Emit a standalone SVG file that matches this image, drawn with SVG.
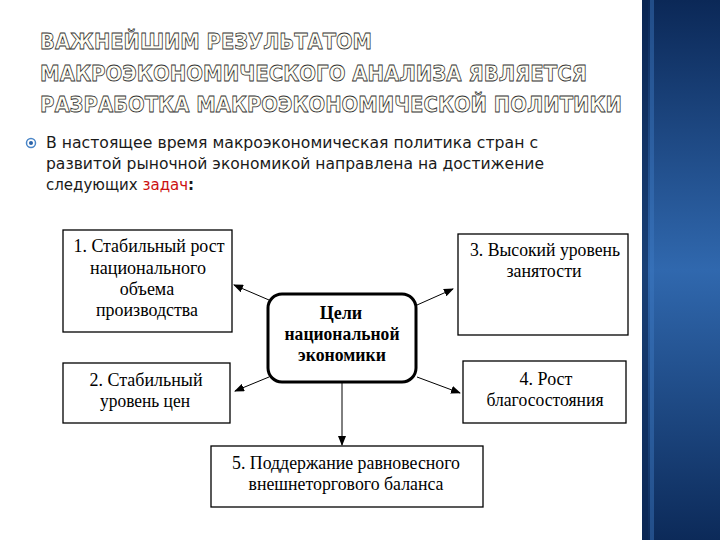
<svg xmlns="http://www.w3.org/2000/svg" width="720" height="540" viewBox="0 0 720 540">
<defs>
<linearGradient id="panel" x1="0" y1="0" x2="0" y2="1">
<stop offset="0" stop-color="#0b2857"/>
<stop offset="0.5" stop-color="#3068ae"/>
<stop offset="1" stop-color="#0c2a59"/>
</linearGradient>
<marker id="arr" markerWidth="10" markerHeight="8" refX="9" refY="4" orient="auto" markerUnits="userSpaceOnUse">
<path d="M0,0 L10,4 L0,8 Z" fill="#000"/>
</marker>
<style>
.title{font-family:"DejaVu Sans","Liberation Sans",sans-serif;font-weight:bold;font-size:21px;fill:#fffef4;stroke:#333;stroke-width:0.8px}
.body{font-family:"DejaVu Sans","Liberation Sans",sans-serif;font-size:15px;fill:#1a1a1a}
.box{fill:#fff;stroke:#000;stroke-width:1.3}
.lbl{font-family:"Liberation Serif","Times New Roman",serif;font-size:18px;fill:#000;text-anchor:middle}
.bold{font-weight:bold}
.conn{stroke:#000;stroke-width:1;fill:none}
</style>
</defs>
<rect width="720" height="540" fill="#fff"/>
<g id="panel-right">
<rect x="642" y="0" width="78" height="540" fill="url(#panel)"/>
<rect x="642" y="0" width="6" height="540" fill="#0a2550" opacity="0.6"/>
<rect x="650" y="0" width="4" height="540" fill="#3d7bc4" opacity="0.45"/>
</g>
<g id="title">
<text class="title" x="40" y="49" textLength="332" lengthAdjust="spacingAndGlyphs">ВАЖНЕЙШИМ РЕЗУЛЬТАТОМ</text>
<text class="title" x="40" y="81" textLength="547" lengthAdjust="spacingAndGlyphs">МАКРОЭКОНОМИЧЕСКОГО АНАЛИЗА ЯВЛЯЕТСЯ</text>
<text class="title" x="40" y="112" textLength="582" lengthAdjust="spacingAndGlyphs">РАЗРАБОТКА МАКРОЭКОНОМИЧЕСКОЙ ПОЛИТИКИ</text>
</g>
<g id="bullet-text">
<circle cx="31" cy="143" r="4.5" fill="none" stroke="#4a86c8" stroke-width="1.5"/>
<circle cx="31" cy="143" r="2" fill="#2a62a8"/>
<text class="body" x="46" y="148" textLength="492" lengthAdjust="spacingAndGlyphs">В настоящее время макроэкономическая политика стран с</text>
<text class="body" x="46" y="169" textLength="498" lengthAdjust="spacingAndGlyphs">развитой рыночной экономикой направлена на достижение</text>
<text class="body" x="46" y="190">следующих <tspan fill="#cc1111">задач</tspan><tspan font-weight="bold">:</tspan></text>
</g>
<g id="connectors">
<line class="conn" x1="269" y1="300" x2="234" y2="285" marker-end="url(#arr)"/>
<line class="conn" x1="417" y1="305" x2="453" y2="289" marker-end="url(#arr)"/>
<line class="conn" x1="269" y1="377" x2="235" y2="391" marker-end="url(#arr)"/>
<line class="conn" x1="417" y1="377" x2="460" y2="393" marker-end="url(#arr)"/>
<line class="conn" x1="342" y1="382" x2="342" y2="445" marker-end="url(#arr)"/>
</g>
<g id="node-center">
<rect x="268" y="294" width="148" height="88" rx="14" ry="14" fill="#fff" stroke="#000" stroke-width="3"/>
<text class="lbl bold" x="341" y="319">Цели</text>
<text class="lbl bold" x="342" y="340" textLength="115" lengthAdjust="spacingAndGlyphs">национальной</text>
<text class="lbl bold" x="342" y="361" textLength="88" lengthAdjust="spacingAndGlyphs">экономики</text>
</g>
<g id="node-1">
<rect class="box" x="63" y="230" width="169" height="102"/>
<text class="lbl" x="149" y="252" textLength="151" lengthAdjust="spacingAndGlyphs">1. Стабильный рост</text>
<text class="lbl" x="148" y="274" textLength="116" lengthAdjust="spacingAndGlyphs">национального</text>
<text class="lbl" x="147" y="295">объема</text>
<text class="lbl" x="147" y="316" textLength="102" lengthAdjust="spacingAndGlyphs">производства</text>
</g>
<g id="node-3">
<rect class="box" x="458" y="234" width="170" height="101"/>
<text class="lbl" x="545" y="256" textLength="150" lengthAdjust="spacingAndGlyphs">3. Высокий уровень</text>
<text class="lbl" x="544" y="277" textLength="75" lengthAdjust="spacingAndGlyphs">занятости</text>
</g>
<g id="node-2">
<rect class="box" x="63" y="363" width="167" height="60"/>
<text class="lbl" x="146" y="386" textLength="113" lengthAdjust="spacingAndGlyphs">2. Стабильный</text>
<text class="lbl" x="145" y="407" textLength="90" lengthAdjust="spacingAndGlyphs">уровень цен</text>
</g>
<g id="node-4">
<rect class="box" x="463" y="361" width="163" height="62"/>
<text class="lbl" x="546" y="385">4. Рост</text>
<text class="lbl" x="545" y="406" textLength="117" lengthAdjust="spacingAndGlyphs">благосостояния</text>
</g>
<g id="node-5">
<rect class="box" x="211" y="446" width="272" height="61"/>
<text class="lbl" x="346" y="469" textLength="228" lengthAdjust="spacingAndGlyphs">5. Поддержание равновесного</text>
<text class="lbl" x="346" y="490" textLength="195" lengthAdjust="spacingAndGlyphs">внешнеторгового баланса</text>
</g>
</svg>
